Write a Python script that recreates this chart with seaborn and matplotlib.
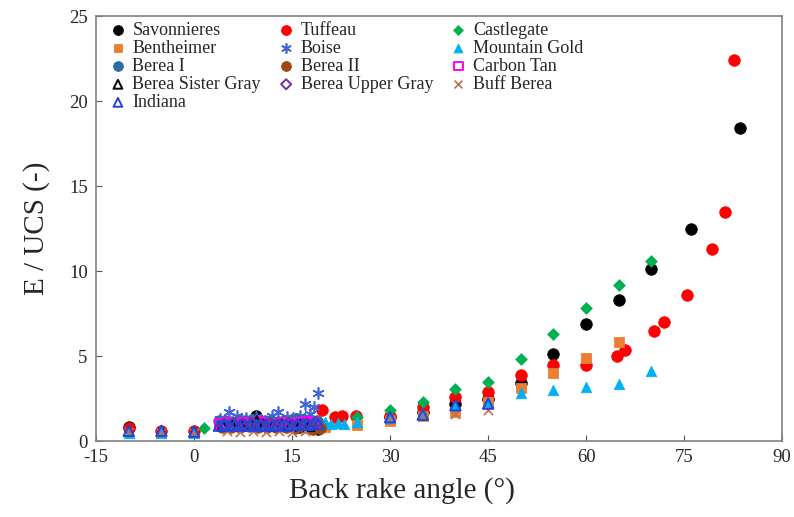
import matplotlib
matplotlib.use("Agg")
import matplotlib.pyplot as plt
import seaborn as sns

# Datos (angulo de ataque vs E/UCS)
sav_x = [-10, 9.5, 13, 16, 18, 19, 30, 35, 40, 45, 50, 55, 60, 65, 70, 76, 83.5]
sav_y = [0.85, 1.45, 0.9, 0.8, 0.75, 0.7, 1.4, 1.7, 2.2, 2.5, 3.4, 5.1, 6.9, 8.3, 10.1, 12.5, 18.4]

tuf_x = [-10, -5, 0, 19.6, 21.6, 22.7, 24.8, 30, 35, 40, 45, 50, 55, 60, 64.8, 66, 70.4, 72, 75.5, 79.2, 81.2, 82.6]
tuf_y = [0.75, 0.6, 0.6, 1.8, 1.4, 1.5, 1.5, 1.5, 2.0, 2.6, 2.9, 3.9, 4.5, 4.5, 5.0, 5.35, 6.5, 7.0, 8.6, 11.3, 13.5, 22.4]

cas_x = [1.5, 16, 17, 18, 25, 30, 35, 40, 45, 50, 55, 60, 65, 70]
cas_y = [0.75, 1.0, 1.05, 1.1, 1.4, 1.8, 2.3, 3.05, 3.5, 4.8, 6.3, 7.85, 9.15, 10.6]

ben_x = [18, 19, 20, 25, 30, 35, 40, 45, 50, 55, 60, 65]
ben_y = [0.75, 0.8, 0.85, 0.95, 1.2, 1.5, 1.7, 2.3, 3.1, 4.0, 4.9, 5.85]

boi_x = [4, 5.4, 6.6, 8, 9.5, 11.9, 12.9, 14.2, 15.2, 16.2, 17, 17.8, 18.3, 19]
boi_y = [1.3, 1.7, 1.5, 1.35, 1.4, 1.5, 1.7, 1.4, 1.35, 1.5, 2.2, 1.6, 2.0, 2.8]

mg_x = [-10, -5, 0, 20, 21, 22, 23, 25, 30, 35, 40, 45, 50, 55, 60, 65, 70]
mg_y = [0.5, 0.5, 0.45, 1.1, 1.0, 1.05, 1.0, 1.1, 1.35, 1.6, 2.1, 2.3, 2.8, 3.0, 3.2, 3.35, 4.1]

b1_x = [3.8, 4.8, 5.8, 6.8, 7.8, 8.8, 9.8, 10.8, 11.8, 12.8, 13.8, 14.8, 15.8, 16.8, 17.8, 18.8]
b1_y = [1.15, 1.2, 1.1, 1.2, 1.15, 1.25, 1.1, 1.15, 1.2, 1.1, 1.15, 1.2, 1.3, 1.25, 1.2, 1.15]

b2_x = [4.2, 5.6, 7.0, 8.4, 9.8, 11.2, 12.6, 14.0, 15.4, 16.8, 18.2, 19.2]
b2_y = [0.8, 0.85, 0.8, 0.9, 0.85, 0.8, 0.85, 0.8, 0.75, 0.8, 0.7, 0.75]

ct_x = [4.0, 5.2, 6.4, 7.6, 8.8, 10.0, 11.2, 12.4, 13.6, 14.8, 16.0, 17.2, 18.4]
ct_y = [1.0, 1.05, 0.95, 1.05, 1.0, 1.1, 1.0, 0.95, 1.05, 1.0, 1.05, 1.1, 1.05]

bsg_x = [4.4, 5.8, 7.2, 8.6, 9.6, 10.6, 12.0, 13.4, 14.8, 16.2, 17.6]
bsg_y = [0.9, 0.95, 0.9, 1.0, 1.15, 0.95, 0.9, 0.95, 0.9, 0.95, 0.9]

bug_x = [4.6, 6.0, 7.4, 8.8, 10.2, 11.6, 13.0, 14.4, 15.8, 17.2, 18.6]
bug_y = [0.95, 1.0, 0.95, 1.0, 0.95, 1.0, 0.95, 1.0, 0.95, 1.0, 1.05]

bb_x = [-10, -5, 0, 5, 7, 9, 11, 13, 15, 17, 30, 35, 40, 45]
bb_y = [0.55, 0.5, 0.45, 0.6, 0.55, 0.6, 0.55, 0.6, 0.55, 0.6, 1.3, 1.5, 1.6, 1.8]

ind_x = [-10, -5, 0, 3.8, 4.6, 5.4, 6.2, 7.0, 7.8, 8.6, 9.4, 10.2, 11.0, 11.8, 12.6, 13.4, 14.2, 15.0,
         15.8, 16.6, 17.4, 18.2, 19.0, 30, 35, 40, 45]
ind_y = [0.6, 0.6, 0.55, 0.9, 0.95, 0.9, 0.95, 0.9, 0.95, 0.9, 0.95, 0.9, 0.95, 0.9, 0.95, 0.9, 0.9, 0.95,
         0.95, 1.0, 0.95, 1.0, 1.0, 1.4, 1.55, 2.1, 2.2]

labels = ["Savonnieres", "Tuffeau", "Castlegate", "Bentheimer", "Boise", "Mountain Gold",
          "Berea I", "Berea II", "Carbon Tan", "Berea Sister Gray", "Berea Upper Gray",
          "Buff Berea", "Indiana"]

sns.set_style("ticks")
plt.rcParams["font.family"] = ["Liberation Serif", "DejaVu Serif"]
plt.rcParams["axes.unicode_minus"] = False

fig, ax = plt.subplots(figsize=(7.94, 5.17), dpi=100)
fig.subplots_adjust(left=0.121, right=0.985, top=0.969, bottom=0.147)

# (x, y, marcador, color, relleno)
series = [
    (sav_x, sav_y, "o", "black", True),
    (tuf_x, tuf_y, "o", "#FF0000", True),
    (cas_x, cas_y, "D", "#00B050", True),
    (ben_x, ben_y, "s", "#ED7D31", True),
    (boi_x, boi_y, (6, 2, 0), "#4466DD", False),
    (mg_x, mg_y, "^", "#00B0F0", True),
    (b1_x, b1_y, "o", "#2E6DA4", True),
    (b2_x, b2_y, "o", "#9E480E", True),
    (ct_x, ct_y, "s", "#FF00FF", False),
    (bsg_x, bsg_y, "^", "black", False),
    (bug_x, bug_y, "D", "#7030A0", False),
    (bb_x, bb_y, "x", "#C0704F", False),
    (ind_x, ind_y, "^", "#2244DD", False),
]
sizes = {"o": 68, "D": 36, "s": 50, "^": 56, "x": 44}

for (x, y, m, c, filled), lab in zip(series, labels):
    s = sizes.get(m, 55) if isinstance(m, str) else 64
    if filled:
        sns.scatterplot(x=x, y=y, ax=ax, marker=m, color=c, edgecolor=c, s=s, label=lab, zorder=3)
    elif m in ("x",) or isinstance(m, tuple):
        sns.scatterplot(x=x, y=y, ax=ax, marker=m, color=c, s=s, linewidth=1.2, label=lab, zorder=3)
    else:
        sns.scatterplot(x=x, y=y, ax=ax, marker=m, facecolor="none", edgecolor=c, s=s,
                        linewidth=1.4, label=lab, zorder=3)

ax.set_xlim(-15, 90)
ax.set_ylim(0, 25)
ax.set_xticks(range(-15, 91, 15))
ax.set_yticks(range(0, 26, 5))
ax.tick_params(direction="in", length=4, labelsize=13.5, color="#555555", pad=6)
for sp in ax.spines.values():
    sp.set_color("#808080")
    sp.set_linewidth(1.2)
ax.set_xlabel("Back rake angle (°)", fontsize=21)
ax.set_ylabel("E / UCS (-)", fontsize=21, labelpad=14)
ax.xaxis.set_label_coords(0.446, -0.085)

handles, labs = ax.get_legend_handles_labels()
order = [0, 3, 6, 9, 12, 1, 4, 7, 10, 2, 5, 8, 11]
ax.legend([handles[i] for i in order], [labs[i] for i in order], ncol=3, loc="upper left",
          bbox_to_anchor=(-0.005, 1.012), frameon=False, fontsize=13, handletextpad=0.0,
          columnspacing=0.6, labelspacing=0.06, borderaxespad=0.2, markerscale=0.85,
          handlelength=1.6)

plt.savefig("out.png", dpi=100)
